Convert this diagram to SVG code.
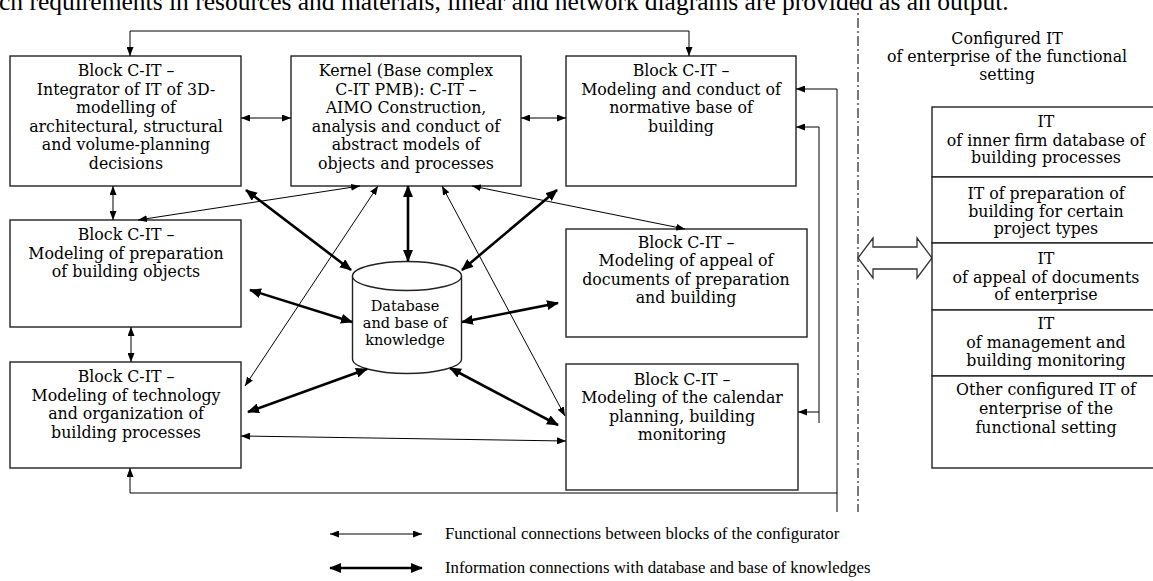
<svg xmlns="http://www.w3.org/2000/svg" width="1153" height="581" viewBox="0 0 1153 581">
<style>
.box{fill:#fff;stroke:#222;stroke-width:1.4}
.t{font-family:"DejaVu Serif","Liberation Serif",serif;font-size:15.8px;fill:#000;text-anchor:middle}
.db{font-size:14.5px}
.fn{fill:none;stroke:#000;stroke-width:1}
.info{fill:none;stroke:#000;stroke-width:2.6}
.lg{font-family:"Liberation Serif",serif;font-size:16.8px;fill:#000}
.top{font-family:"Liberation Serif",serif;font-size:25.5px;fill:#000}
</style>
<defs>
<marker id="af" viewBox="0 0 9 7" refX="9" refY="3.5" markerWidth="9" markerHeight="7" markerUnits="userSpaceOnUse" orient="auto-start-reverse"><path d="M0,0 L9,3.5 L0,7 z" fill="#000"/></marker>
<marker id="ai" viewBox="0 0 12 10" refX="11" refY="5" markerWidth="12" markerHeight="10" markerUnits="userSpaceOnUse" orient="auto-start-reverse"><path d="M0,0 L12,5 L0,10 z" fill="#000"/></marker>
</defs>
<rect width="1153" height="581" fill="#fff"/>
<text class="top" x="-1" y="10">ch requirements in resources and materials, linear and network diagrams are provided as an output.</text>

<g id="b1">
<rect class="box" x="10" y="56" width="231" height="130"/>
<text class="t" x="126" y="76">Block C-IT –</text>
<text class="t" x="126" y="95">Integrator of IT of 3D-</text>
<text class="t" x="126" y="113">modelling of</text>
<text class="t" x="126" y="132">architectural, structural</text>
<text class="t" x="126" y="150">and volume-planning</text>
<text class="t" x="126" y="169">decisions</text>
</g>
<g id="kernel">
<rect class="box" x="291" y="56" width="230" height="130"/>
<text class="t" x="406" y="76">Kernel (Base complex</text>
<text class="t" x="406" y="95">C-IT PMB): C-IT –</text>
<text class="t" x="406" y="113">AIMO Construction,</text>
<text class="t" x="406" y="132">analysis and conduct of</text>
<text class="t" x="406" y="150">abstract models of</text>
<text class="t" x="406" y="169">objects and processes</text>
</g>
<g id="b3">
<rect class="box" x="566" y="56" width="230" height="130"/>
<text class="t" x="681" y="76">Block C-IT –</text>
<text class="t" x="681" y="95">Modeling and conduct of</text>
<text class="t" x="681" y="113">normative base of</text>
<text class="t" x="681" y="132">building</text>
</g>
<g id="b4">
<rect class="box" x="10" y="220" width="231" height="107"/>
<text class="t" x="126" y="240">Block C-IT –</text>
<text class="t" x="126" y="259">Modeling of preparation</text>
<text class="t" x="126" y="277">of building objects</text>
</g>
<g id="b5">
<rect class="box" x="10" y="362" width="231" height="106"/>
<text class="t" x="126" y="382">Block C-IT –</text>
<text class="t" x="126" y="401">Modeling of technology</text>
<text class="t" x="126" y="419">and organization of</text>
<text class="t" x="126" y="438">building processes</text>
</g>
<g id="b7">
<rect class="box" x="566" y="229" width="241" height="108"/>
<text class="t" x="686" y="248">Block C-IT –</text>
<text class="t" x="686" y="266">Modeling of appeal of</text>
<text class="t" x="686" y="285">documents of preparation</text>
<text class="t" x="686" y="303">and building</text>
</g>
<g id="b6">
<rect class="box" x="566" y="364" width="232" height="126"/>
<text class="t" x="682" y="385">Block C-IT –</text>
<text class="t" x="682" y="403">Modeling of the calendar</text>
<text class="t" x="682" y="422">planning, building</text>
<text class="t" x="682" y="440">monitoring</text>
</g>
<g id="db">
<path class="box" d="M352.5,276 L352.5,359 A54.5,14.5 0 0 0 461.5,359 L461.5,276"/>
<ellipse class="box" cx="407" cy="276" rx="54.5" ry="14.5"/>
<text class="t db" x="405" y="311">Database</text>
<text class="t db" x="405" y="328">and base of</text>
<text class="t db" x="405" y="345">knowledge</text>
</g>

<g id="connectors">
<path class="fn" d="M241,118 L291,118" marker-start="url(#af)" marker-end="url(#af)"/>
<path class="fn" d="M521,118 L566,118" marker-start="url(#af)" marker-end="url(#af)"/>
<path class="fn" d="M113,186 L113,220" marker-start="url(#af)" marker-end="url(#af)"/>
<path class="fn" d="M131,327 L131,362" marker-start="url(#af)" marker-end="url(#af)"/>
<path class="fn" d="M360,186 L138,220" marker-start="url(#af)" marker-end="url(#af)"/>
<path class="fn" d="M378,186 L245,386" marker-start="url(#af)" marker-end="url(#af)"/>
<path class="fn" d="M442,186 L565,416" marker-start="url(#af)" marker-end="url(#af)"/>
<path class="fn" d="M472,186 L685,229" marker-start="url(#af)" marker-end="url(#af)"/>
<path class="fn" d="M241,436 L566,441" marker-start="url(#af)" marker-end="url(#af)"/>
<path class="fn" d="M130,56 L130,31 L689,31 L689,56" marker-start="url(#af)" marker-end="url(#af)"/>
<path class="fn" d="M837,512 L837,89 L796,89" marker-end="url(#af)"/>
<path class="fn" d="M837,493 L130,493 L130,468" marker-end="url(#af)"/>
<path class="fn" d="M819,423 L819,127 L796,127" marker-end="url(#af)"/>
<path class="fn" d="M819,412 L798,412" marker-end="url(#af)"/>
<path class="info" d="M408,186 L408,261" marker-start="url(#ai)" marker-end="url(#ai)"/>
<path class="info" d="M246,190 L351,270" marker-start="url(#ai)" marker-end="url(#ai)"/>
<path class="info" d="M557,190 L462,270" marker-start="url(#ai)" marker-end="url(#ai)"/>
<path class="info" d="M250,290 L352,322" marker-start="url(#ai)" marker-end="url(#ai)"/>
<path class="info" d="M558,303 L462,322" marker-start="url(#ai)" marker-end="url(#ai)"/>
<path class="info" d="M248,412 L367,369" marker-start="url(#ai)" marker-end="url(#ai)"/>
<path class="info" d="M450,368 L558,425" marker-start="url(#ai)" marker-end="url(#ai)"/>
</g>

<path d="M858,0 L858,512" fill="none" stroke="#333" stroke-width="1.3" stroke-dasharray="10 3 2 3"/>

<g id="configured">
<text class="t" x="1007" y="44">Configured IT</text>
<text class="t" x="1007" y="62">of enterprise of the functional</text>
<text class="t" x="1007" y="80">setting</text>
</g>
<g id="bothway">
<polygon points="858,258 873,238 873,247 917,247 917,238 932,258 917,278 917,269 873,269 873,278" fill="#fff" stroke="#333" stroke-width="1.3"/>
</g>
<g id="stack">
<rect class="box" x="932" y="107" width="240" height="70"/>
<text class="t" x="1046" y="127">IT</text>
<text class="t" x="1046" y="146">of inner firm database of</text>
<text class="t" x="1046" y="163">building processes</text>
<rect class="box" x="932" y="177" width="240" height="66"/>
<text class="t" x="1046" y="199">IT of preparation of</text>
<text class="t" x="1046" y="217">building for certain</text>
<text class="t" x="1046" y="234">project types</text>
<rect class="box" x="932" y="243" width="240" height="67"/>
<text class="t" x="1046" y="264">IT</text>
<text class="t" x="1046" y="283">of appeal of documents</text>
<text class="t" x="1046" y="300">of enterprise</text>
<rect class="box" x="932" y="310" width="240" height="66"/>
<text class="t" x="1046" y="329">IT</text>
<text class="t" x="1046" y="348">of management and</text>
<text class="t" x="1046" y="366">building monitoring</text>
<rect class="box" x="932" y="376" width="240" height="92"/>
<text class="t" x="1046" y="395">Other configured IT of</text>
<text class="t" x="1046" y="414">enterprise of the</text>
<text class="t" x="1046" y="433">functional setting</text>
</g>

<g id="legend">
<path class="fn" d="M330,534 L422,534" marker-start="url(#af)" marker-end="url(#af)"/>
<path class="info" d="M330,568 L422,568" marker-start="url(#ai)" marker-end="url(#ai)"/>
<text class="lg" x="445" y="539">Functional connections between blocks of the configurator</text>
<text class="lg" x="445" y="573">Information connections with database and base of knowledges</text>
</g>
</svg>
